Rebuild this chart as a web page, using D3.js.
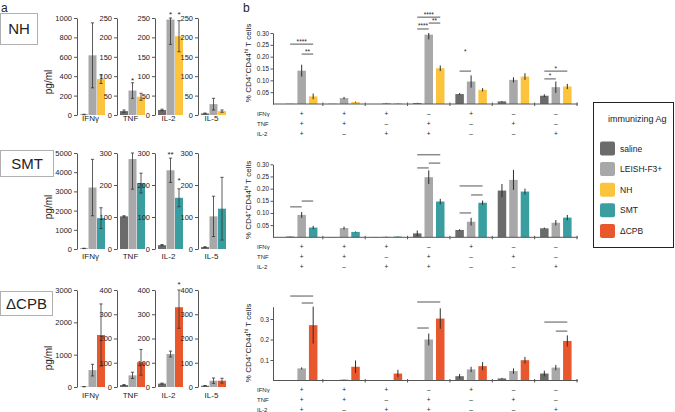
<!DOCTYPE html>
<html><head><meta charset="utf-8">
<script src="https://cdn.jsdelivr.net/npm/d3@7"></script>
<style>
body{margin:0;background:#fff}
svg{display:block}
text{font-family:"Liberation Sans",Arial,sans-serif;fill:#222}
</style>
</head><body>
<svg id="c" width="675" height="412"></svg>
<script>
// ---------- shared ----------
const cytokines = ["IFNγ", "TNF", "IL-2", "IL-5"];
const immunogens = ["NH", "SMT", "ΔCPB"];
const legendLabels = ["saline", "LEISH-F3+", "NH", "SMT", "ΔCPB"];
const colors = ["#6b6b6b", "#a8a8aa", "#fcc33c", "#3a9ea1", "#e9572d"];

// ---------- panel a: cytokine secretion (pg/ml), order IFNγ, TNF, IL-2, IL-5 ----------
const aNH_sal  = [5, 10, 13, 4];     const aNH_salE  = [3, 3, 2, 1];
const aNH_lei  = [615, 63, 246, 28]; const aNH_leiE  = [335, 20, 64, 15];
const aNH_ag   = [370, 47, 203, 10]; const aNH_agE   = [45, 9, 40, 3];
const aSMT_sal = [30, 102, 12, 6];   const aSMT_salE = [10, 2, 2, 1];
const aSMT_lei = [3200, 281, 246, 102]; const aSMT_leiE = [1470, 94, 38, 63];
const aSMT_ag  = [1608, 206, 160, 126]; const aSMT_agE  = [540, 31, 28, 98];
const aCPB_sal = [10, 8, 14, 5];     const aCPB_salE = [5, 2, 2, 1];
const aCPB_lei = [522, 48, 136, 26]; const aCPB_leiE = [180, 13, 12, 11];
const aCPB_ag  = [1609, 102, 329, 26]; const aCPB_agE = [960, 53, 87, 10];

const aTicksNH_IFN  = [0, 200, 400, 600, 800, 1000];
const aTicksNH_oth  = [0, 50, 100, 150, 200, 250];
const aTicksSMT_IFN = [0, 1000, 2000, 3000, 4000, 5000];
const aTicksSMT_oth = [0, 100, 200, 300];
const aTicksCPB_IFN = [0, 1000, 2000, 3000];
const aTicksCPB_oth = [0, 100, 200, 300, 400];

// [cytokine, bar, label, height (pg/ml)]
const aStarsNH  = [[1, 1, "*", 93], [2, 1, "*", 263], [2, 2, "*", 263]];
const aStarsSMT = [[2, 1, "**", 303], [2, 2, "*", 219]];
const aStarsCPB = [[2, 2, "*", 429]];

// ---------- panel b: % CD4+CD44hi T cells, 7 cytokine combinations ----------
const combIFN = ["+", "+", "+", "-", "+", "-", "-"];
const combTNF = ["+", "+", "-", "+", "-", "+", "-"];
const combIL2 = ["+", "-", "+", "+", "-", "-", "+"];

const bNH_sal  = [0.001, 0.001, 0.000, 0.004, 0.042, 0.011, 0.035];
const bNH_salE = [0.000, 0.000, 0.000, 0.001, 0.004, 0.002, 0.006];
const bNH_lei  = [0.141, 0.025, 0.004, 0.293, 0.095, 0.102, 0.071];
const bNH_leiE = [0.025, 0.005, 0.001, 0.020, 0.026, 0.011, 0.024];
const bNH_ag   = [0.032, 0.008, 0.003, 0.151, 0.060, 0.116, 0.074];
const bNH_agE  = [0.012, 0.002, 0.001, 0.012, 0.007, 0.014, 0.011];

const bSMT_sal  = [0.003, 0.001, 0.001, 0.016, 0.030, 0.192, 0.037];
const bSMT_salE = [0.001, 0.000, 0.000, 0.012, 0.003, 0.027, 0.003];
const bSMT_lei  = [0.092, 0.038, 0.002, 0.247, 0.064, 0.236, 0.060];
const bSMT_leiE = [0.012, 0.006, 0.001, 0.028, 0.016, 0.041, 0.011];
const bSMT_ag   = [0.040, 0.022, 0.003, 0.147, 0.142, 0.188, 0.081];
const bSMT_agE  = [0.007, 0.002, 0.001, 0.011, 0.009, 0.012, 0.011];

const bCPB_sal  = [0.000, 0.000, 0.000, 0.002, 0.021, 0.010, 0.034];
const bCPB_salE = [0.000, 0.000, 0.000, 0.000, 0.011, 0.003, 0.014];
const bCPB_lei  = [0.059, 0.005, 0.001, 0.200, 0.054, 0.046, 0.063];
const bCPB_leiE = [0.005, 0.001, 0.000, 0.029, 0.013, 0.013, 0.013];
const bCPB_ag   = [0.270, 0.067, 0.034, 0.302, 0.070, 0.099, 0.193];
const bCPB_agE  = [0.090, 0.031, 0.018, 0.050, 0.020, 0.016, 0.027];

const bTicks12 = [0.05, 0.10, 0.15, 0.20, 0.25, 0.30];
const bTicks3  = [0.1, 0.2, 0.3];

// brackets: [group, fromBar, toBar, height, label, labelHeight?]
const bBrNH = [[0,0,2,0.253,"****"],[0,1,2,0.211,"**"],[3,0,2,0.367,"****"],[3,0,1,0.317,"****"],
               [3,1,2,0.342,"**"],[4,0,1,0.139,"*",0.222],[6,0,2,0.139,"*"],[6,0,1,0.106,"*"]];
const bBrSMT = [[0,0,1,0.125,""],[0,1,2,0.149,""],[3,0,2,0.339,""],[3,0,1,0.285,""],[3,1,2,0.305,""],
                [4,0,1,0.100,""],[4,0,2,0.211,""],[4,1,2,0.174,""]];
const bBrCPB = [[0,0,2,0.412,""],[0,1,2,0.378,""],[3,0,1,0.256,""],[3,0,2,0.383,""],[6,0,2,0.285,""],[6,1,2,0.241,""]];

// ================= drawing =================
const svg = d3.select("#c");

svg.append("text").attr("x", 1).attr("y", 12).attr("font-size", 12).text("a");
svg.append("text").attr("x", 243).attr("y", 12).attr("font-size", 12).text("b");

// ----- panel a -----
const aRows = [
  {sal:aNH_sal, salE:aNH_salE, lei:aNH_lei, leiE:aNH_leiE, ag:aNH_ag, agE:aNH_agE, tI:aTicksNH_IFN, tO:aTicksNH_oth, stars:aStarsNH, c:2,
   y0:115, y1:18, lab:121, pgY:82, box:[0.5,13.5,37,31], ty:28.5},
  {sal:aSMT_sal, salE:aSMT_salE, lei:aSMT_lei, leiE:aSMT_leiE, ag:aSMT_ag, agE:aSMT_agE, tI:aTicksSMT_IFN, tO:aTicksSMT_oth, stars:aStarsSMT, c:3,
   y0:249, y1:153, lab:259, pgY:207, box:[0.5,150.5,53,26], ty:163.5},
  {sal:aCPB_sal, salE:aCPB_salE, lei:aCPB_lei, leiE:aCPB_leiE, ag:aCPB_ag, agE:aCPB_agE, tI:aTicksCPB_IFN, tO:aTicksCPB_oth, stars:aStarsCPB, c:4,
   y0:387, y1:290, lab:398, pgY:358, box:[0.5,291.5,52,24], ty:303.5}
];
const axXs = [77, 117, 155, 198];

aRows.forEach((R, r) => {
  const g = svg.append("g");
  g.append("rect").attr("x", R.box[0]).attr("y", R.box[1]).attr("width", R.box[2]).attr("height", R.box[3])
    .attr("fill", "#fff").attr("stroke", "#b0b0b0");
  g.append("text").attr("x", R.box[0] + R.box[2] / 2).attr("y", R.ty).attr("text-anchor", "middle")
    .attr("dominant-baseline", "central").attr("font-family", "Lato, 'Open Sans', sans-serif").attr("font-size", 15)
    .text(immunogens[r]);
  g.append("text").attr("transform", `translate(52,${R.pgY}) rotate(-90)`).attr("text-anchor", "middle")
    .attr("font-size", 10).text("pg/ml");

  cytokines.forEach((cy, c) => {
    const ticks = c === 0 ? R.tI : R.tO;
    const ymax = d3.max(ticks);
    const y = d3.scaleLinear().domain([0, ymax]).range([R.y0, R.y1]);
    const ax = axXs[c];
    const xb = d3.scaleBand().domain([0, 1, 2]).range([ax + 3, ax + 28]).paddingInner(0.06);
    const vals = [R.sal[c], R.lei[c], R.ag[c]];
    const errs = [R.salE[c], R.leiE[c], R.agE[c]];
    const cols = [colors[0], colors[1], colors[R.c]];
    const sub = g.append("g");
    sub.selectAll("rect.bar").data(vals).join("rect").attr("class", "bar")
      .attr("x", (d, i) => xb(i)).attr("width", xb.bandwidth())
      .attr("y", d => y(d)).attr("height", d => y(0) - y(d)).attr("fill", (d, i) => cols[i]);
    vals.forEach((v, i) => {
      const cx = xb(i) + xb.bandwidth() / 2;
      const lo = y(Math.max(0, v - errs[i])), hi = y(Math.min(ymax, v + errs[i]));
      const eg = sub.append("g").attr("stroke", "#333").attr("stroke-width", 0.8);
      eg.append("line").attr("x1", cx).attr("x2", cx).attr("y1", lo).attr("y2", hi);
      eg.append("line").attr("x1", cx - 1.6).attr("x2", cx + 1.6).attr("y1", lo).attr("y2", lo);
      eg.append("line").attr("x1", cx - 1.6).attr("x2", cx + 1.6).attr("y1", hi).attr("y2", hi);
    });
    const axis = d3.axisLeft(y).tickValues(ticks).tickSize(3).tickSizeOuter(0).tickPadding(2).tickFormat(d3.format("d"));
    const axg = sub.append("g").attr("transform", `translate(${ax},0)`).call(axis);
    axg.selectAll("path,line").attr("stroke", "#555");
    axg.selectAll("text").attr("font-size", 7.5).attr("fill", "#222").attr("font-family", "'Liberation Sans',Arial,sans-serif");
    sub.append("text").attr("x", ax + 15.5 - 2).attr("y", R.lab).attr("text-anchor", "middle").attr("font-size", 8)
      .attr("fill", "#222").text(cy);
    R.stars.filter(s => s[0] === c).forEach(s => {
      sub.append("text").attr("x", xb(s[1]) + xb.bandwidth() / 2).attr("y", y(s[3]) + 4.5)
        .attr("text-anchor", "middle").attr("font-size", 8).text(s[2]);
    });
  });
});

// ----- panel b -----
const bRows = [
  {sal:bNH_sal, salE:bNH_salE, lei:bNH_lei, leiE:bNH_leiE, ag:bNH_ag, agE:bNH_agE, c:2, br:bBrNH,
   top:0.30, y0:104, y1:33, ticks:bTicks12, fmt:".2f", labY:63},
  {sal:bSMT_sal, salE:bSMT_salE, lei:bSMT_lei, leiE:bSMT_leiE, ag:bSMT_ag, agE:bSMT_agE, c:3, br:bBrSMT,
   top:0.30, y0:237.3, y1:164.3, ticks:bTicks12, fmt:".2f", labY:200},
  {sal:bCPB_sal, salE:bCPB_salE, lei:bCPB_lei, leiE:bCPB_leiE, ag:bCPB_ag, agE:bCPB_agE, c:4, br:bBrCPB,
   top:0.36, y0:380.5, y1:306.7, ticks:bTicks3, fmt:".1f", labY:343}
];
const xg = d3.scaleBand().domain(d3.range(7)).range([280.5, 577]);
const xi = d3.scaleBand().domain([0, 1, 2]).range([-17.25, 17.25]).paddingInner(0.26).paddingOuter(0.13);
const gc = i => xg(i) + xg.bandwidth() / 2;
const bc = (gi, bi) => gc(gi) + xi(bi) + xi.bandwidth() / 2;

bRows.forEach(R => {
  const g = svg.append("g");
  const y = d3.scaleLinear().domain([0, R.top]).range([R.y0, R.y1]);
  for (let gi = 0; gi < 7; gi++) {
    const vals = [R.sal[gi], R.lei[gi], R.ag[gi]];
    const errs = [R.salE[gi], R.leiE[gi], R.agE[gi]];
    const cols = [colors[0], colors[1], colors[R.c]];
    vals.forEach((v, i) => {
      g.append("rect").attr("x", gc(gi) + xi(i)).attr("width", xi.bandwidth())
        .attr("y", y(v)).attr("height", y(0) - y(v)).attr("fill", cols[i]);
      if (errs[i] > 0) {
        g.append("line").attr("x1", bc(gi, i)).attr("x2", bc(gi, i))
          .attr("y1", y(Math.max(0, v - errs[i]))).attr("y2", y(Math.min(R.top, v + errs[i])))
          .attr("stroke", "#2e2e2e").attr("stroke-width", 1);
      }
    });
  }
  g.append("line").attr("x1", 273).attr("x2", 578).attr("y1", R.y0).attr("y2", R.y0).attr("stroke", "#555");
  for (let gi = 0; gi < 7; gi++) {
    const xx = xg(gi) + xg.step();
    g.append("line").attr("x1", xx).attr("x2", xx).attr("y1", R.y0 - 1.5).attr("y2", R.y0 + 2).attr("stroke", "#555");
  }
  const axis = d3.axisLeft(y).tickValues(R.ticks).tickSize(2.5).tickSizeOuter(0).tickPadding(1.5).tickFormat(d3.format(R.fmt));
  const axg = g.append("g").attr("transform", "translate(273,0)").call(axis);
  axg.selectAll("path,line").attr("stroke", "#555");
  axg.selectAll("text").attr("font-size", 6.3).attr("fill", "#333").attr("font-family", "'Liberation Sans',Arial,sans-serif");
  const yl = g.append("text").attr("transform", `translate(251,${R.labY}) rotate(-90)`).attr("text-anchor", "middle").attr("font-size", 8);
  yl.append("tspan").text("% CD4");
  yl.append("tspan").attr("font-size", 5.5).attr("dy", -3).text("+");
  yl.append("tspan").attr("dy", 3).text("CD44");
  yl.append("tspan").attr("font-size", 5.5).attr("dy", -3).text("hi");
  yl.append("tspan").attr("dy", 3).text(" T cells");
  const rowsT = [["IFNγ", combIFN], ["TNF", combTNF], ["IL-2", combIL2]];
  rowsT.forEach((rt, k) => {
    const yy = R.y0 + 11.5 + k * 10;
    g.append("text").attr("x", 257).attr("y", yy).attr("font-size", 6).text(rt[0]);
    rt[1].forEach((s, gi) => {
      g.append("text").attr("x", gc(gi)).attr("y", yy).attr("text-anchor", "middle").attr("font-size", 6.5).text(s === "-" ? "–" : s);
    });
  });
  R.br.forEach(b => {
    const x1 = bc(b[0], b[1]), x2 = bc(b[0], b[2]);
    g.append("line").attr("x1", x1).attr("x2", x2).attr("y1", y(b[3])).attr("y2", y(b[3])).attr("stroke", "#555").attr("stroke-width", 1);
    if (b[4]) {
      const ly = b[5] !== undefined ? y(b[5]) + 3 : y(b[3]) - 0.5;
      g.append("text").attr("x", (x1 + x2) / 2).attr("y", ly).attr("text-anchor", "middle").attr("font-size", 6.5).text(b[4]);
    }
  });
});

// ----- legend -----
const lg = svg.append("g");
lg.append("rect").attr("x", 593.5).attr("y", 102.5).attr("width", 80).attr("height", 145).attr("fill", "#fff").attr("stroke", "#222");
lg.append("text").attr("x", 608).attr("y", 122).attr("font-size", 9).text("immunizing Ag");
legendLabels.forEach((l, i) => {
  const yy = 141.5 + i * 20.6;
  lg.append("rect").attr("x", 600).attr("y", yy).attr("width", 15).attr("height", 14).attr("rx", 2).attr("fill", colors[i]);
  lg.append("text").attr("x", 620).attr("y", yy + 7).attr("dominant-baseline", "central").attr("font-size", 8.5).text(l);
});
</script>
</body></html>
